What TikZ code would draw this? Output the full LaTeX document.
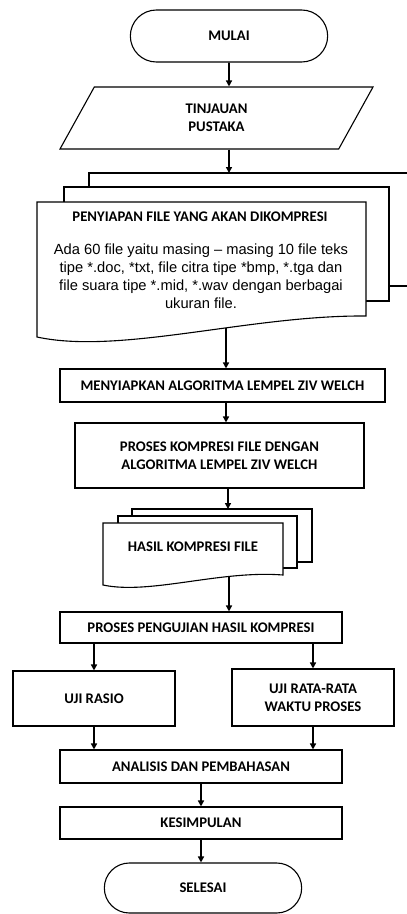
\documentclass[tikz,border=0pt]{standalone}
\usepackage{fontspec}
\setmainfont{Carlito}
\newfontfamily\arialfont{Liberation Sans}
\usetikzlibrary{shapes.geometric,shapes.misc,arrows.meta}

\begin{document}
\begin{tikzpicture}[
			x=1pt, y=-1pt,
			font=\fontsize{14.7}{18}\selectfont\bfseries,
			box/.style={rectangle,draw,line width=1.1pt,align=center},
			terminal/.style={rounded rectangle,draw,line width=1.1pt,minimum width=204pt},
			sheet/.style={draw,line width=1.1pt,fill=white},
			arr/.style={line width=1.6pt,-{Triangle[length=6pt,width=6pt]}}
		]
		\useasboundingbox (0,0) rectangle (407,914);
		\node[terminal,minimum height=52pt] (mulai) at (229,36) {MULAI};
		\node[trapezium,trapezium left angle=45,trapezium right angle=135,trapezium stretches body,
			draw,line width=1.1pt,minimum width=313pt,minimum height=62pt,align=center] (pustaka) at (216.5,118) {TINJAUAN\\PUSTAKA};
		\draw[sheet] (89,187) -- (89,173) -- (415,173) -- (415,286) -- (389,286);
		\draw[sheet] (64,202) -- (64,187) -- (389,187) -- (389,301) -- (366,301);
		\draw[sheet] (37,202) -- (366,202) -- (366,316) .. controls (250,315) and (120,355) .. (37,337) -- cycle;
		\coordinate (preptop) at (229,173);
		\coordinate (prepbot) at (226,328);
		\node (prept) at (200,217) {PENYIAPAN FILE YANG AKAN DIKOMPRESI};
		\node[font=\arialfont\fontsize{14.7}{18}\selectfont,align=center] (prepb) at (201,276)
			{Ada 60 file yaitu masing – masing 10 file teks\\tipe *.doc, *txt, file citra tipe *bmp, *.tga dan\\file suara tipe *.mid, *.wav dengan berbagai\\ukuran file.};
		\node[box,minimum width=325pt,minimum height=33pt] (men) at (222.5,385.5) {MENYIAPKAN ALGORITMA LEMPEL ZIV WELCH};
		\node[box,minimum width=289pt,minimum height=65pt] (kom) at (219.5,455.5) {PROSES KOMPRESI FILE DENGAN\\ALGORITMA LEMPEL ZIV WELCH};
		\draw[sheet] (132,516) -- (132,509) -- (312,509) -- (312,562) -- (297,562);
		\draw[sheet] (118,523) -- (118,516) -- (297,516) -- (297,568) -- (283,568);
		\draw[sheet] (103,523) -- (283,523) -- (283,575) .. controls (220,570) and (150,595) .. (103,585) -- cycle;
		\coordinate (hasiltop) at (228,509);
		\coordinate (hasilbot) at (229,577);
		\node (hasil) at (193,547) {HASIL KOMPRESI FILE};
		\node[box,minimum width=282pt,minimum height=31pt] (uji) at (201,627.5) {PROSES PENGUJIAN HASIL KOMPRESI};
		\node[box,minimum width=162pt,minimum height=55pt] (ras) at (94,698.5) {UJI RASIO};
		\node[box,minimum width=162pt,minimum height=57pt] (wkt) at (313,697.5) {UJI RATA-RATA\\WAKTU PROSES};
		\node[box,minimum width=282pt,minimum height=33pt] (ana) at (201,766.5) {ANALISIS DAN PEMBAHASAN};
		\node[box,minimum width=282pt,minimum height=32pt] (kes) at (201,823) {KESIMPULAN};
		\node[terminal,minimum height=50pt] (selesai) at (203,888) {SELESAI};
		\draw[arr] (mulai) -- (mulai |- pustaka.north);
		\draw[arr] (pustaka.south -| preptop) -- (preptop);
		\draw[arr] (prepbot) -- (prepbot |- men.north);
		\draw[arr] (men.south -| prepbot) -- (prepbot |- kom.north);
		\draw[arr] (kom.south -| hasiltop) -- (hasiltop);
		\draw[arr] (hasilbot) -- (hasilbot |- uji.north);
		\draw[arr] (uji.south -| ras.north) -- (ras.north);
		\draw[arr] (uji.south -| wkt.north) -- (wkt.north);
		\draw[arr] (ras) -- (ras |- ana.north);
		\draw[arr] (wkt) -- (wkt |- ana.north);
		\draw[arr] (ana) -- (kes);
		\draw[arr] (kes) -- (kes |- selesai.north);
	\end{tikzpicture}
\end{document}
